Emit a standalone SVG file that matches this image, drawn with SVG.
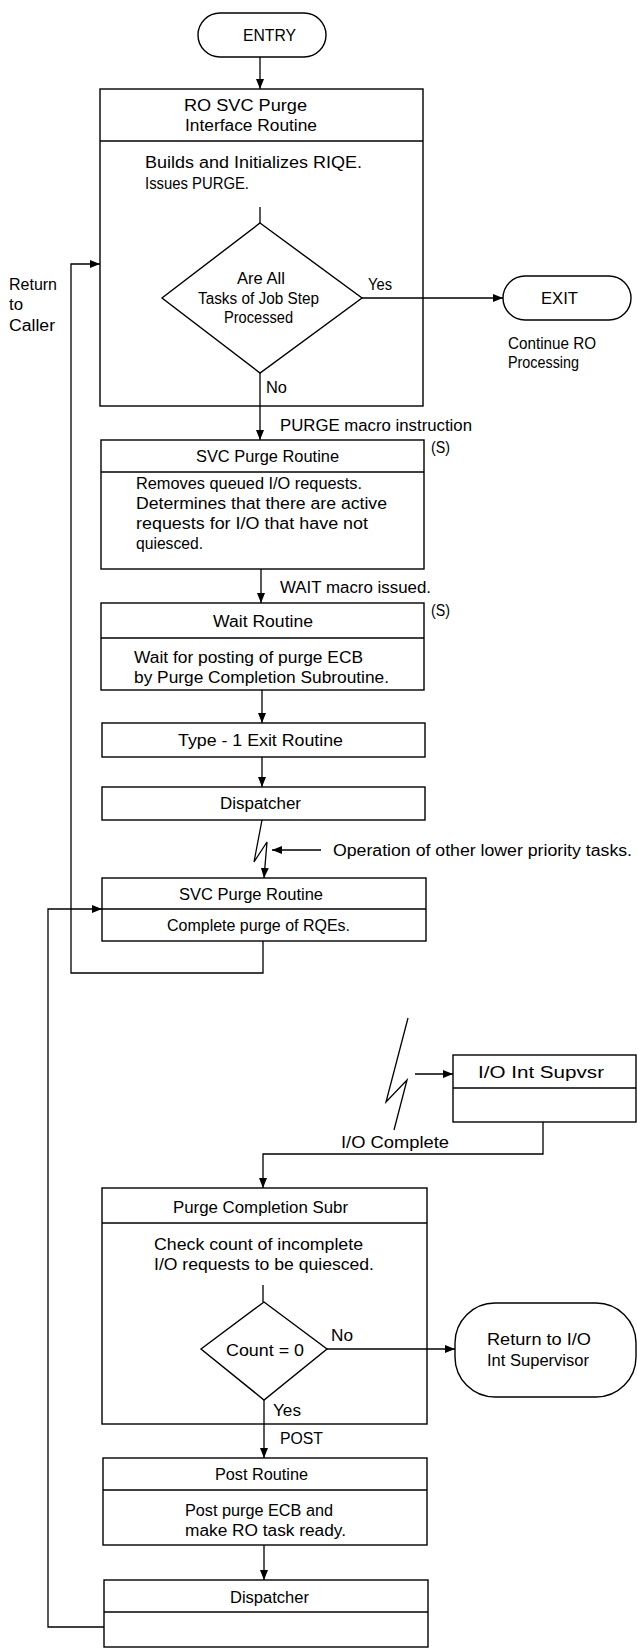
<svg xmlns="http://www.w3.org/2000/svg" width="637" height="1649" viewBox="0 0 637 1649">
<style>
.s{fill:none;stroke:#000;stroke-width:1.4}
.c{fill:none;stroke:#000;stroke-width:1.3}
text{font-family:"Liberation Sans",Arial,sans-serif;font-size:16px;fill:#000}
</style>
<defs>
<marker id="a" viewBox="0 0 10 8" refX="10" refY="4" markerWidth="10" markerHeight="8" markerUnits="userSpaceOnUse" orient="auto">
<path d="M0,0L10,4L0,8z" fill="#000"/>
</marker>
</defs>
<rect width="637" height="1649" fill="#fff"/>
<g id="entry">
<rect class="s" x="198" y="13" width="128" height="44" rx="22"/>
<text x="243" y="41" textLength="53" lengthAdjust="spacingAndGlyphs">ENTRY</text>
</g>
<g id="ro-svc-purge">
<rect class="s" x="100" y="89" width="323" height="317"/>
<line class="s" x1="100" y1="141" x2="423" y2="141"/>
<text x="184" y="111" textLength="123" lengthAdjust="spacingAndGlyphs">RO SVC Purge</text>
<text x="185" y="131" textLength="132" lengthAdjust="spacingAndGlyphs">Interface Routine</text>
<text x="145" y="168" textLength="217" lengthAdjust="spacingAndGlyphs">Builds and Initializes RIQE.</text>
<text x="145" y="189" textLength="104" lengthAdjust="spacingAndGlyphs">Issues PURGE.</text>
</g>
<g id="decision-tasks">
<polygon class="s" points="260,223 362,298 260,373 162,298"/>
<text x="237" y="284" textLength="48" lengthAdjust="spacingAndGlyphs">Are All</text>
<text x="198" y="304" textLength="121" lengthAdjust="spacingAndGlyphs">Tasks of Job Step</text>
<text x="224" y="323" textLength="69" lengthAdjust="spacingAndGlyphs">Processed</text>
</g>
<g id="exit">
<rect class="s" x="503" y="276" width="128" height="44" rx="22"/>
<text x="541" y="304" textLength="37" lengthAdjust="spacingAndGlyphs">EXIT</text>
<text x="508" y="349" textLength="88" lengthAdjust="spacingAndGlyphs">Continue RO</text>
<text x="508" y="368" textLength="71" lengthAdjust="spacingAndGlyphs">Processing</text>
</g>
<g id="svc-purge-1">
<rect class="s" x="101" y="440" width="323" height="129"/>
<line class="s" x1="101" y1="472" x2="424" y2="472"/>
<text x="196" y="462" textLength="143" lengthAdjust="spacingAndGlyphs">SVC Purge Routine</text>
<text x="136" y="489" textLength="226" lengthAdjust="spacingAndGlyphs">Removes queued I/O requests.</text>
<text x="136" y="509" textLength="251" lengthAdjust="spacingAndGlyphs">Determines that there are active</text>
<text x="136" y="529" textLength="232" lengthAdjust="spacingAndGlyphs">requests for I/O that have not</text>
<text x="136" y="549" textLength="67" lengthAdjust="spacingAndGlyphs">quiesced.</text>
<text x="431" y="453" textLength="19" lengthAdjust="spacingAndGlyphs">(S)</text>
</g>
<g id="wait-routine">
<rect class="s" x="101" y="603" width="323" height="87"/>
<line class="s" x1="101" y1="638" x2="424" y2="638"/>
<text x="213" y="627" textLength="100" lengthAdjust="spacingAndGlyphs">Wait Routine</text>
<text x="134" y="663" textLength="229" lengthAdjust="spacingAndGlyphs">Wait for posting of purge ECB</text>
<text x="134" y="683" textLength="255" lengthAdjust="spacingAndGlyphs">by Purge Completion Subroutine.</text>
<text x="431" y="616" textLength="19" lengthAdjust="spacingAndGlyphs">(S)</text>
</g>
<g id="type1-exit">
<rect class="s" x="102" y="723" width="323" height="34"/>
<text x="178" y="746" textLength="165" lengthAdjust="spacingAndGlyphs">Type - 1 Exit Routine</text>
</g>
<g id="dispatcher-1">
<rect class="s" x="102" y="787" width="323" height="33"/>
<text x="220" y="809" textLength="81" lengthAdjust="spacingAndGlyphs">Dispatcher</text>
</g>
<g id="svc-purge-2">
<rect class="s" x="102" y="878" width="324" height="63"/>
<line class="s" x1="102" y1="909" x2="426" y2="909"/>
<text x="179" y="900" textLength="144" lengthAdjust="spacingAndGlyphs">SVC Purge Routine</text>
<text x="167" y="931" textLength="183" lengthAdjust="spacingAndGlyphs">Complete purge of RQEs.</text>
</g>
<g id="io-int-supvsr">
<rect class="s" x="453" y="1055" width="183" height="67"/>
<line class="s" x1="453" y1="1088" x2="636" y2="1088"/>
<text x="478" y="1078" textLength="126" lengthAdjust="spacingAndGlyphs">I/O Int Supvsr</text>
</g>
<g id="purge-completion">
<rect class="s" x="102" y="1188" width="325" height="236"/>
<line class="s" x1="102" y1="1223" x2="427" y2="1223"/>
<text x="173" y="1213" textLength="175" lengthAdjust="spacingAndGlyphs">Purge Completion Subr</text>
<text x="154" y="1250" textLength="209" lengthAdjust="spacingAndGlyphs">Check count of incomplete</text>
<text x="154" y="1270" textLength="220" lengthAdjust="spacingAndGlyphs">I/O requests to be quiesced.</text>
</g>
<g id="decision-count">
<polygon class="s" points="264,1302 327,1349 264,1400 201,1349"/>
<text x="226" y="1356" textLength="78" lengthAdjust="spacingAndGlyphs">Count = 0</text>
</g>
<g id="return-io">
<rect class="s" x="455" y="1303" width="181" height="94" rx="40"/>
<text x="487" y="1345" textLength="104" lengthAdjust="spacingAndGlyphs">Return to I/O</text>
<text x="487" y="1366" textLength="102" lengthAdjust="spacingAndGlyphs">Int Supervisor</text>
</g>
<g id="post-routine">
<rect class="s" x="103" y="1458" width="324" height="87"/>
<line class="s" x1="103" y1="1490" x2="427" y2="1490"/>
<text x="215" y="1480" textLength="93" lengthAdjust="spacingAndGlyphs">Post Routine</text>
<text x="185" y="1516" textLength="148" lengthAdjust="spacingAndGlyphs">Post purge ECB and</text>
<text x="185" y="1536" textLength="161" lengthAdjust="spacingAndGlyphs">make RO task ready.</text>
</g>
<g id="dispatcher-2">
<rect class="s" x="104" y="1580" width="324" height="67"/>
<line class="s" x1="104" y1="1612" x2="428" y2="1612"/>
<text x="230" y="1603" textLength="79" lengthAdjust="spacingAndGlyphs">Dispatcher</text>
</g>
<g id="connectors">
<line class="c" x1="260" y1="57" x2="260" y2="89" marker-end="url(#a)"/>
<line class="c" x1="260" y1="207" x2="260" y2="223"/>
<line class="c" x1="362" y1="298" x2="503" y2="298" marker-end="url(#a)"/>
<text x="368" y="290" textLength="24" lengthAdjust="spacingAndGlyphs">Yes</text>
<line class="c" x1="260" y1="373" x2="260" y2="440" marker-end="url(#a)"/>
<text x="266" y="393" textLength="21" lengthAdjust="spacingAndGlyphs">No</text>
<text x="280" y="431" textLength="192" lengthAdjust="spacingAndGlyphs">PURGE macro instruction</text>
<line class="c" x1="261" y1="569" x2="261" y2="603" marker-end="url(#a)"/>
<text x="280" y="593" textLength="151" lengthAdjust="spacingAndGlyphs">WAIT macro issued.</text>
<line class="c" x1="262" y1="690" x2="262" y2="723" marker-end="url(#a)"/>
<line class="c" x1="262" y1="757" x2="262" y2="787" marker-end="url(#a)"/>
<polyline class="c" points="262,820 254,862 267,842 264,878" marker-end="url(#a)"/>
<line class="c" x1="321" y1="850" x2="272" y2="850" marker-end="url(#a)"/>
<text x="333" y="856" textLength="299" lengthAdjust="spacingAndGlyphs">Operation of other lower priority tasks.</text>
<polyline class="c" points="263,941 263,973 71,973 71,264 100,264" marker-end="url(#a)"/>
<text x="9" y="290" textLength="48" lengthAdjust="spacingAndGlyphs">Return</text>
<text x="9" y="310" textLength="14" lengthAdjust="spacingAndGlyphs">to</text>
<text x="9" y="331" textLength="46" lengthAdjust="spacingAndGlyphs">Caller</text>
<polyline class="c" points="408,1018 386,1102 407,1080 394,1130"/>
<line class="c" x1="415" y1="1074" x2="453" y2="1074" marker-end="url(#a)"/>
<polyline class="c" points="543,1122 543,1154 263,1154 263,1188" marker-end="url(#a)"/>
<text x="341" y="1148" textLength="108" lengthAdjust="spacingAndGlyphs">I/O Complete</text>
<line class="c" x1="263" y1="1285" x2="263" y2="1302"/>
<line class="c" x1="327" y1="1349" x2="455" y2="1349" marker-end="url(#a)"/>
<text x="331" y="1341" textLength="22" lengthAdjust="spacingAndGlyphs">No</text>
<line class="c" x1="264" y1="1400" x2="264" y2="1458" marker-end="url(#a)"/>
<text x="273" y="1416" textLength="28" lengthAdjust="spacingAndGlyphs">Yes</text>
<text x="280" y="1444" textLength="43" lengthAdjust="spacingAndGlyphs">POST</text>
<line class="c" x1="264" y1="1545" x2="264" y2="1580" marker-end="url(#a)"/>
<polyline class="c" points="104,1627 48,1627 48,909 102,909" marker-end="url(#a)"/>
</g>
</svg>
